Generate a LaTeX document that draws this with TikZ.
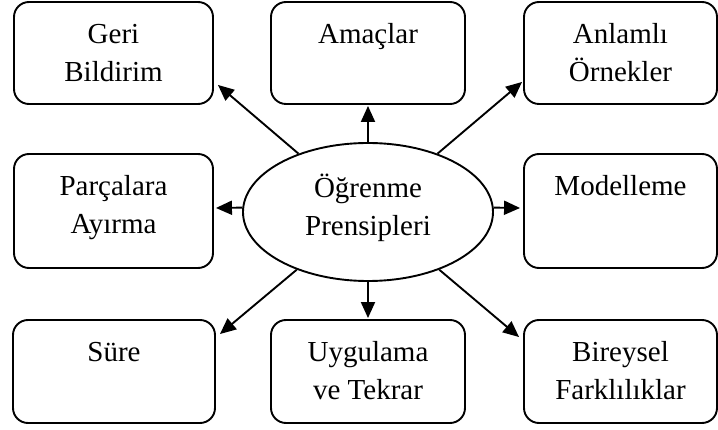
\documentclass[tikz,border=0pt]{standalone}
\usepackage{fontspec}
\setmainfont{Liberation Serif}
\usetikzlibrary{arrows.meta,shapes.geometric}
\newcommand{\topstrut}{\rule{0pt}{26pt}}
\begin{document}
\begin{tikzpicture}[x=1pt,y=1pt,
  box/.style={draw,line width=1.9pt,rounded corners=15pt,inner sep=0pt},
  hub/.style={draw,ellipse,line width=1.9pt,inner sep=0pt,minimum width=250pt,minimum height=138pt},
  lbl/.style={anchor=north,inner sep=0pt,align=center,font=\fontsize{29}{38.5}\selectfont},
  arr/.style={line width=1.9pt,-{Triangle[length=16pt,width=14pt]}}]
\useasboundingbox (0,0) rectangle (718,-430);

% outer boxes
\node[box,minimum width=199pt,minimum height=102pt] (g)  at (113.5,-53) {};
\node[box,minimum width=194pt,minimum height=102pt] (a)  at (368,-53) {};
\node[box,minimum width=193pt,minimum height=102pt] (an) at (620.5,-53) {};
\node[box,minimum width=199pt,minimum height=114pt] (p)  at (113.5,-211) {};
\node[box,minimum width=193pt,minimum height=114pt] (m)  at (620.5,-211) {};
\node[box,minimum width=202pt,minimum height=103pt] (s)  at (114,-371.5) {};
\node[box,minimum width=194pt,minimum height=103pt] (u)  at (368,-371.5) {};
\node[box,minimum width=193pt,minimum height=103pt] (b)  at (620.5,-371.5) {};

% central ellipse
\node[hub] (c) at (368,-212) {};

% labels, set from the top of each shape
\node[lbl] (gl)  at ([yshift=-16pt]g.north)  {\topstrut Geri\\Bildirim};
\node[lbl] (al)  at ([yshift=-16pt]a.north)  {\topstrut Amaçlar};
\node[lbl] (anl) at ([yshift=-16pt]an.north) {\topstrut Anlamlı\\Örnekler};
\node[lbl] (pl)  at ([yshift=-16pt]p.north)  {\topstrut Parçalara\\Ayırma};
\node[lbl] (ml)  at ([yshift=-16pt]m.north)  {\topstrut Modelleme};
\node[lbl] (sl)  at ([yshift=-16pt]s.north)  {\topstrut Süre};
\node[lbl] (ul)  at ([yshift=-16pt]u.north)  {\topstrut Uygulama\\ve Tekrar};
\node[lbl] (bl)  at ([yshift=-16pt]b.north)  {\topstrut Bireysel\\Farklılıklar};
\node[lbl] (cl)  at (368,-171) {\topstrut Öğrenme\\Prensipleri};

% arrows from the centre
\draw[arr] (c.140)   -- ([shift={(4,20)}]g.south east);
\draw[arr] (c.north) -- ([yshift=-1]a.south);
\draw[arr] (c.40)    -- ([shift={(-1,23)}]an.south west);
\draw[arr] (c.178)   -- ([shift={(2,3)}]p.east);
\draw[arr] (c.2)     -- ([shift={(-3,3)}]m.west);
\draw[arr] (c.219)   -- ([shift={(4,-15)}]s.north east);
\draw[arr] (c.south) -- ([yshift=1]u.north);
\draw[arr] (c.321)   -- ([shift={(-4,-18)}]b.north west);
\end{tikzpicture}
\end{document}
